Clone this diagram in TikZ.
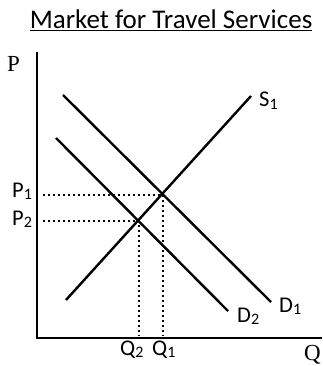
\documentclass[tikz,border=0pt]{standalone}
\usepackage{fontspec}
\setmainfont{Carlito}
\newfontfamily\serifP{Liberation Serif}
\newcommand{\lsub}[1]{\raisebox{-0.22ex}{\fontsize{16}{16}\selectfont #1}}
\begin{document}
\begin{tikzpicture}[x=1pt,y=-1pt,
  curve/.style={line width=2.4pt},
  axis/.style={line width=2.8pt},
  guide/.style={line width=2pt,dash pattern=on 2pt off 3pt},
  lab/.style={font=\fontsize{22.5}{24}\selectfont,inner sep=0pt,anchor=base west},
  axlab/.style={font=\serifP\fontsize{23}{24}\selectfont,inner sep=0pt,anchor=base west}]
\useasboundingbox (0,0) rectangle (323,366);
\node[font=\fontsize{27}{29}\selectfont,inner sep=0pt,anchor=base] (title) at (171,29) {\underline{Market for Travel Services}};
\coordinate (O) at (37,338);
\coordinate (Ytop) at (37,52);
\coordinate (Xend) at (322,338);
\draw[axis] (Ytop) -- (O) -- (Xend);
\node[axlab] (P) at (7,72) {P};
\node[axlab] (Q) at (304,360) {Q};
% curves
\coordinate (s0) at (66,300);
\coordinate (s1) at (251,96);
\coordinate (d10) at (63,95);
\coordinate (d11) at (271,302);
\coordinate (d20) at (56,138);
\coordinate (d21) at (228,311);
\draw[curve] (s0) -- (s1);
\draw[curve] (d10) -- (d11);
\draw[curve] (d20) -- (d21);
\coordinate (E1) at (163,195);
\coordinate (E2) at (139,221);
\coordinate (p1a) at (43,195);
\coordinate (p2a) at (43,221);
\coordinate (q1a) at (163,336);
\coordinate (q2a) at (139,336);
\draw[guide] (p1a) -- (E1) -- (q1a);
\draw[guide] (p2a) -- (E2) -- (q2a);
\node[lab] (S1) at (259,107) {S\lsub{1}};
\node[lab] (D1) at (279,312) {D\lsub{1}};
\node[lab] (D2) at (237,322) {D\lsub{2}};
\node[lab] (P1) at (12,197) {P\lsub{1}};
\node[lab] (P2) at (12,225) {P\lsub{2}};
\node[lab] (Q2) at (120,355) {Q\lsub{2}};
\node[lab] (Q1) at (152,355) {Q\lsub{1}};
\end{tikzpicture}
\end{document}
